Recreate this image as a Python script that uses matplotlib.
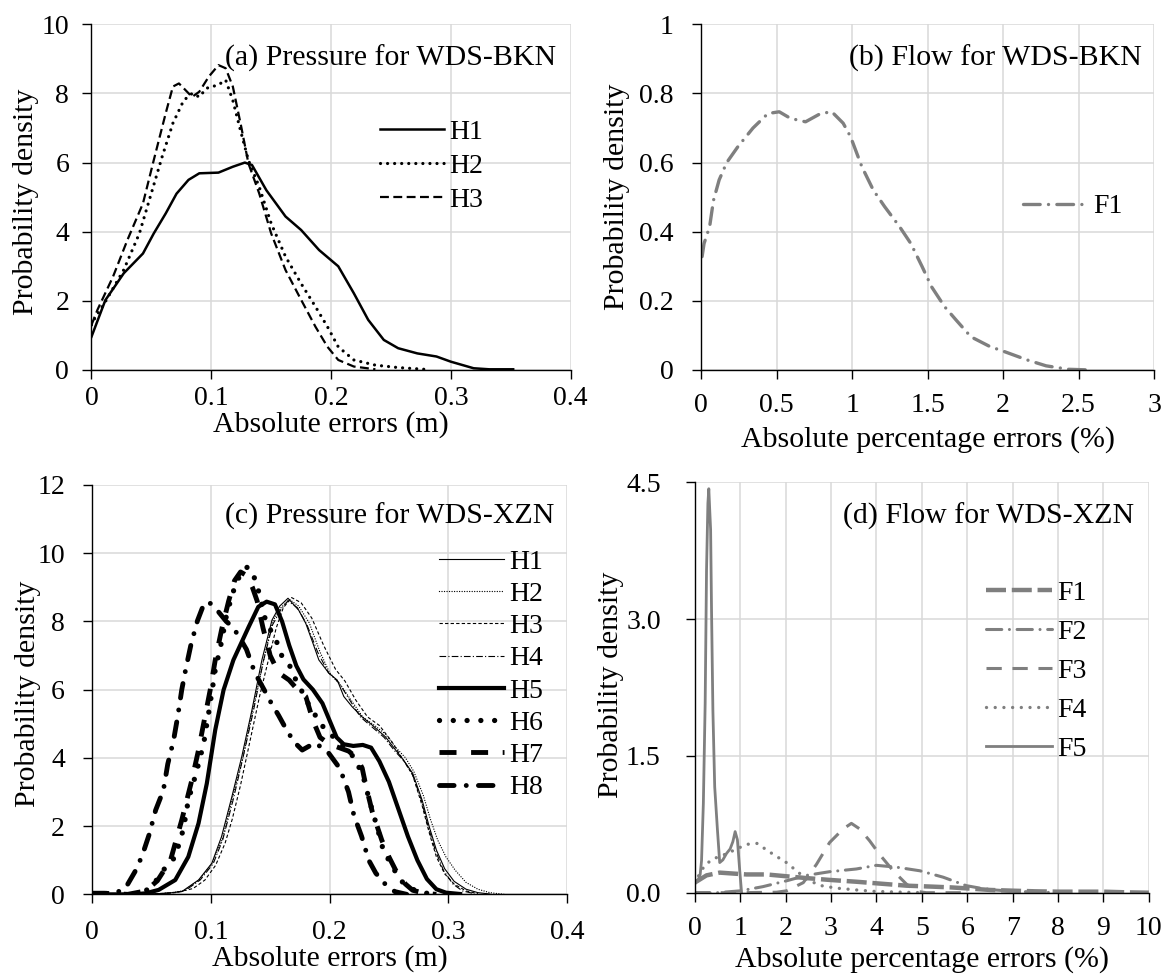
import matplotlib
matplotlib.use('Agg')
import matplotlib.pyplot as plt

plt.rcParams['font.family'] = ['Liberation Serif', 'DejaVu Serif']
FS = 20      # tick labels and legends
FSL = 21.5   # axis labels and panel titles

# ---------------- data ----------------
# (a) Pressure for WDS-BKN
a_H1_x = [0, 0.0116, 0.027, 0.043, 0.052, 0.062, 0.071, 0.081, 0.09, 0.106, 0.118, 0.128, 0.134, 0.146,
          0.162, 0.175, 0.19, 0.206, 0.219, 0.231, 0.244, 0.256, 0.272, 0.288, 0.30, 0.319, 0.332, 0.352]
a_H1_y = [0.96, 2.02, 2.8, 3.37, 3.95, 4.53, 5.1, 5.5, 5.69, 5.71, 5.88, 6.0, 5.93, 5.2,
          4.44, 4.05, 3.47, 3.0, 2.22, 1.45, 0.87, 0.63, 0.48, 0.39, 0.24, 0.05, 0.02, 0.02]
a_H2_x = [0, 0.002, 0.012, 0.027, 0.04, 0.049, 0.059, 0.068, 0.077, 0.084, 0.09, 0.096, 0.106, 0.112,
          0.118, 0.125, 0.131, 0.14, 0.15, 0.162, 0.175, 0.187, 0.197, 0.206, 0.219, 0.237, 0.256, 0.278]
a_H2_y = [1.3, 1.45, 2.0, 2.9, 3.95, 5.0, 6.17, 7.14, 7.8, 8.0, 7.9, 8.15, 8.25, 8.39,
          7.8, 6.85, 6.07, 5.3, 4.24, 3.28, 2.5, 1.83, 1.25, 0.67, 0.29, 0.14, 0.07, 0.02]
a_H3_x = [0, 0.005, 0.018, 0.03, 0.043, 0.052, 0.062, 0.068, 0.073, 0.077, 0.084, 0.09, 0.098, 0.106,
          0.112, 0.118, 0.125, 0.131, 0.14, 0.15, 0.162, 0.175, 0.187, 0.197, 0.206, 0.219, 0.237]
a_H3_y = [1.3, 1.74, 2.7, 3.76, 4.82, 6.07, 7.43, 8.2, 8.29, 8.15, 7.9, 8.05, 8.49, 8.82,
          8.73, 8.2, 7.04, 5.98, 5.11, 3.95, 2.89, 2.03, 1.25, 0.67, 0.29, 0.1, 0.02]

# (b) Flow for WDS-BKN
b_F1_x = [0.007, 0.02, 0.057, 0.082, 0.12, 0.17, 0.244, 0.344, 0.443, 0.518, 0.592, 0.692, 0.792, 0.866,
          0.941, 0.99, 1.065, 1.14, 1.215, 1.314, 1.389, 1.464, 1.526, 1.613, 1.688, 1.787, 1.912, 2.01,
          2.16, 2.285, 2.435, 2.584]
b_F1_y = [0.328, 0.366, 0.415, 0.49, 0.55, 0.60, 0.646, 0.70, 0.742, 0.747, 0.728, 0.718, 0.742, 0.747,
          0.714, 0.675, 0.588, 0.521, 0.473, 0.415, 0.366, 0.299, 0.241, 0.183, 0.145, 0.096, 0.068, 0.053,
          0.029, 0.012, 0.002, 0.0]

# (c) Pressure for WDS-XZN
c_H1_x = [0.03, 0.05, 0.065, 0.0755, 0.0896, 0.1008, 0.109, 0.1177, 0.126, 0.1346, 0.143, 0.1515, 0.158,
          0.165, 0.174, 0.18, 0.185, 0.191, 0.1995, 0.2065, 0.212, 0.219, 0.2275, 0.236, 0.247, 0.2557,
          0.262, 0.27, 0.278, 0.284, 0.29, 0.297, 0.305, 0.315, 0.325, 0.335]
c_H1_y = [0, 0.01, 0.04, 0.08, 0.42, 0.91, 1.69, 2.86, 4.03, 5.4, 6.87, 8.04, 8.45,
          8.68, 8.33, 7.94, 7.46, 6.87, 6.48, 6.28, 5.8, 5.5, 5.2, 4.96, 4.62, 4.23,
          3.95, 3.55, 2.76, 1.98, 1.3, 0.75, 0.38, 0.15, 0.05, 0.01]
c_H2_x = [0.03, 0.05, 0.065, 0.077, 0.09, 0.101, 0.11, 0.118, 0.127, 0.135, 0.144, 0.152, 0.159,
          0.166, 0.174, 0.183, 0.192, 0.2, 0.21, 0.218, 0.228, 0.238, 0.247, 0.256, 0.264, 0.271,
          0.279, 0.285, 0.291, 0.298, 0.306, 0.315, 0.325, 0.335, 0.347]
c_H2_y = [0, 0.01, 0.04, 0.1, 0.42, 0.9, 1.65, 2.8, 4.0, 5.35, 6.8, 8.0, 8.4,
          8.65, 8.45, 7.95, 7.1, 6.5, 6.1, 5.7, 5.2, 4.95, 4.7, 4.3, 4.0, 3.6,
          2.9, 2.2, 1.6, 1.1, 0.7, 0.35, 0.15, 0.05, 0.0]
c_H3_x = [0.035, 0.055, 0.07, 0.085, 0.095, 0.104, 0.112, 0.118, 0.125, 0.133, 0.141, 0.148, 0.155,
          0.161, 0.168, 0.176, 0.185, 0.195, 0.205, 0.213, 0.222, 0.232, 0.242, 0.252, 0.261, 0.27,
          0.278, 0.284, 0.29, 0.297, 0.305, 0.315, 0.325]
c_H3_y = [0, 0.01, 0.05, 0.17, 0.42, 0.85, 1.5, 2.2, 3.2, 4.5, 5.8, 6.8, 7.8,
          8.4, 8.7, 8.55, 8.1, 7.3, 6.6, 6.25, 5.7, 5.2, 4.95, 4.5, 4.0, 3.5,
          2.6, 1.8, 1.1, 0.6, 0.3, 0.1, 0.02]
c_H4_x = [0.03, 0.05, 0.065, 0.078, 0.091, 0.102, 0.11, 0.119, 0.127, 0.136, 0.144, 0.152, 0.159,
          0.165, 0.173, 0.181, 0.19, 0.199, 0.208, 0.216, 0.226, 0.236, 0.246, 0.255, 0.263, 0.27,
          0.277, 0.283, 0.289, 0.296, 0.304, 0.312, 0.322]
c_H4_y = [0, 0.01, 0.04, 0.1, 0.42, 0.9, 1.6, 2.8, 4.0, 5.4, 6.8, 7.9, 8.35,
          8.6, 8.4, 7.9, 7.1, 6.5, 6.2, 5.75, 5.2, 4.9, 4.6, 4.2, 3.9, 3.5,
          2.8, 2.0, 1.3, 0.7, 0.3, 0.1, 0.02]
c_H5_x = [0.0, 0.035, 0.045, 0.056, 0.07, 0.081, 0.0896, 0.0966, 0.1037, 0.1107, 0.119, 0.132, 0.14,
          0.147, 0.154, 0.16, 0.166, 0.172, 0.178, 0.186, 0.194, 0.2, 0.206, 0.212, 0.22, 0.228, 0.235,
          0.242, 0.25, 0.258, 0.266, 0.274, 0.282, 0.29, 0.298, 0.31]
c_H5_y = [0, 0, 0.03, 0.13, 0.42, 1.1, 2.08, 3.25, 4.82, 5.99, 6.87, 7.85, 8.43,
          8.58, 8.5, 8.0, 7.3, 6.7, 6.3, 6.0, 5.6, 5.1, 4.6, 4.4, 4.35, 4.38, 4.3,
          3.9, 3.3, 2.5, 1.7, 1.0, 0.45, 0.15, 0.05, 0.01]
c_H6_x = [0.035, 0.045, 0.052, 0.0586, 0.065, 0.07, 0.077, 0.081, 0.088, 0.094, 0.099, 0.1037, 0.109,
          0.1135, 0.1206, 0.126, 0.131, 0.136, 0.141, 0.146, 0.151, 0.156, 0.16, 0.167, 0.171, 0.176,
          0.181, 0.187, 0.192, 0.199, 0.21, 0.2205, 0.228, 0.234, 0.24, 0.246, 0.253, 0.257, 0.264,
          0.275, 0.29]
c_H6_y = [0, 0.1, 0.3, 0.66, 0.9, 1.1, 1.93, 2.76, 3.6, 4.43, 5.5, 6.58, 7.4,
          8.24, 9.07, 9.45, 9.6, 9.35, 8.8, 8.04, 7.7, 7.36, 6.97, 6.67, 6.33, 6.0,
          5.65, 5.31, 5.01, 4.75, 4.4, 4.02, 3.5, 2.7, 1.98, 1.2, 0.86, 0.52, 0.27,
          0.06, 0.0]
c_H7_x = [0.0, 0.01, 0.03, 0.045, 0.055, 0.066, 0.0755, 0.084, 0.0896, 0.095, 0.0995, 0.1037, 0.109,
          0.115, 0.12, 0.125, 0.13, 0.135, 0.139, 0.144, 0.15, 0.157, 0.166, 0.173, 0.18, 0.186,
          0.192, 0.2, 0.208, 0.216, 0.223, 0.2275, 0.2305, 0.236, 0.244, 0.25, 0.258, 0.264, 0.27,
          0.28, 0.29]
c_H7_y = [0.03, 0.03, 0.0, 0.1, 0.4, 1.0, 2.18, 3.35, 4.23, 5.2, 6.0, 6.87, 7.75,
          8.6, 9.2, 9.45, 9.35, 9.0, 8.6, 7.8, 7.0, 6.5, 6.28, 6.0, 5.8, 5.1,
          4.6, 4.4, 4.3, 4.2, 4.0, 3.7, 3.2, 2.42, 1.59, 1.1, 0.55, 0.3, 0.12,
          0.03, 0.0]
c_H8_x = [0.0, 0.012, 0.025, 0.03, 0.036, 0.042, 0.048, 0.0535, 0.06, 0.0637, 0.0685, 0.0721, 0.0755,
          0.079, 0.0833, 0.0887, 0.094, 0.098, 0.101, 0.106, 0.113, 0.118, 0.123, 0.13, 0.137, 0.145,
          0.151, 0.157, 0.163, 0.17, 0.177, 0.1876, 0.198, 0.2087, 0.216, 0.2205, 0.227, 0.233, 0.239,
          0.246, 0.255, 0.265]
c_H8_y = [0.03, 0.03, 0.1, 0.3, 0.66, 1.12, 1.75, 2.47, 3.05, 3.82, 4.5, 5.22, 6.0,
          6.63, 7.33, 8.02, 8.5, 8.58, 8.48, 8.3, 8.0, 7.85, 7.6, 7.18, 6.5, 5.99,
          5.6, 5.25, 4.87, 4.47, 4.23, 4.44, 4.2, 3.69, 3.0, 2.32, 1.7, 1.0, 0.62,
          0.33, 0.08, 0.0]

# (d) Flow for WDS-XZN
d_F1_x = [0, 0.26, 0.55, 0.84, 1.14, 1.58, 2.02, 2.46, 2.97, 3.56, 4.07, 4.66, 5.25, 5.64, 6.0,
          6.5, 7.0, 7.5, 8.0, 8.5, 9.0, 9.5, 10.0]
d_F1_y = [0.11, 0.19, 0.22, 0.21, 0.2, 0.2, 0.18, 0.16, 0.14, 0.12, 0.1, 0.077, 0.066, 0.058, 0.047,
          0.03, 0.022, 0.015, 0.011, 0.011, 0.011, 0.004, 0.0]
d_F2_x = [0, 0.5, 1.0, 1.5, 2.02, 2.46, 2.97, 3.56, 4.0, 4.44, 4.96, 5.47, 5.98, 6.28, 6.6, 7.0, 8.0]
d_F2_y = [0.0, 0.0, 0.02, 0.066, 0.13, 0.19, 0.23, 0.26, 0.3, 0.28, 0.24, 0.17, 0.077, 0.05, 0.03,
          0.015, 0.0]
d_F3_x = [0, 1.0, 1.8, 2.02, 2.39, 2.68, 2.97, 3.27, 3.45, 3.63, 3.85, 4.07, 4.37, 4.66, 4.88, 5.1, 6.0]
d_F3_y = [0.0, 0.0, 0.005, 0.02, 0.11, 0.31, 0.55, 0.7, 0.76, 0.7, 0.57, 0.42, 0.24, 0.095, 0.015,
          0.0, 0.0]
d_F4_x = [0, 0.1, 0.22, 0.4, 0.62, 0.84, 1.14, 1.37, 1.73, 2.02, 2.24, 2.46, 2.75, 3.12, 3.56, 3.93,
          4.44, 5.0]
d_F4_y = [0.1, 0.2, 0.3, 0.37, 0.41, 0.46, 0.53, 0.54, 0.42, 0.33, 0.24, 0.15, 0.08, 0.05, 0.03,
          0.015, 0.007, 0.0]
d_F5_x = [0, 0.07, 0.12, 0.15, 0.19, 0.23, 0.26, 0.29, 0.31, 0.33, 0.35, 0.37, 0.4, 0.44, 0.5, 0.55,
          0.62, 0.7, 0.78, 0.84, 0.89, 0.94, 0.99, 1.03]
d_F5_y = [0.11, 0.13, 0.2, 0.35, 0.98, 2.08, 3.54, 4.27, 4.43, 4.2, 3.98, 3.1, 2.0, 1.16, 0.69, 0.33,
          0.36, 0.43, 0.48, 0.56, 0.67, 0.58, 0.25, 0.01]

a_xticks = [0, 0.1, 0.2, 0.3, 0.4]
a_yticks = [0, 2, 4, 6, 8, 10]
b_xticks = [0, 0.5, 1, 1.5, 2, 2.5, 3]
b_yticks = [0, 0.2, 0.4, 0.6, 0.8, 1]
c_xticks = [0, 0.1, 0.2, 0.3, 0.4]
c_yticks = [0, 2, 4, 6, 8, 10, 12]
d_xticks = list(range(0, 11))
d_yticks = [0.0, 1.5, 3.0, 4.5]

GRAY = '#7f7f7f'

fig = plt.figure(figsize=(11.68, 9.77), dpi=100)
axA = fig.add_axes([0.0783, 0.6213, 0.4103, 0.3538])
axB = fig.add_axes([0.6002, 0.6213, 0.3879, 0.3538])
axC = fig.add_axes([0.0789, 0.0846, 0.4065, 0.4190])
axD = fig.add_axes([0.5948, 0.0863, 0.3888, 0.4200])


def style(ax, xticks, yticks, yfmt, xpad, ypad, xlabel, xlab_y, ylab_x, ylab_y):
    ax.set_xlim(xticks[0], xticks[-1])
    ax.set_ylim(yticks[0], yticks[-1])
    ax.set_xticks(xticks)
    ax.set_yticks(yticks)
    ax.set_xticklabels(['%g' % v for v in xticks])
    ax.set_yticklabels([yfmt % v for v in yticks])
    ax.grid(True, color='#d9d9d9', lw=1.1)
    ax.set_axisbelow(True)
    for s in ('top', 'right'):
        ax.spines[s].set_visible(False)
    for s in ('left', 'bottom'):
        ax.spines[s].set_color('black')
        ax.spines[s].set_linewidth(1.0)
    ax.tick_params(direction='out', length=6.5, width=1.0, labelsize=FS, colors='black')
    ax.tick_params(axis='x', pad=xpad)
    ax.tick_params(axis='y', pad=ypad)
    ax.set_xlabel(xlabel, fontsize=FSL)
    ax.xaxis.set_label_coords(0.5, xlab_y)
    ax.set_ylabel('Probability density', fontsize=FSL, va='center')
    ax.yaxis.set_label_coords(ylab_x, ylab_y)


# ---- (a)
axA.plot(a_H1_x, a_H1_y, color='black', lw=1.8, ls='-', label='H1', solid_joinstyle='round')
axA.plot(a_H2_x, a_H2_y, color='black', lw=2.3, ls=(0, (0.01, 2.2)), dash_capstyle='round', label='H2')
axA.plot(a_H3_x, a_H3_y, color='black', lw=1.6, ls=(0, (4, 2)), label='H3')
style(axA, a_xticks, a_yticks, '%g', 5.0, 9.5, 'Absolute errors (m)', -0.118, -0.136, 0.487)
axA.text(0.969, 0.9025, '(a) Pressure for WDS-BKN', transform=axA.transAxes, ha='right', va='center',
         fontsize=FSL)
axA.legend(loc='center left', bbox_to_anchor=(0.6015, 0.590), frameon=False, fontsize=FS,
           borderpad=0, borderaxespad=0, handlelength=2.3, handletextpad=0.2, labelspacing=0.31)

# ---- (b)
axB.plot(b_F1_x, b_F1_y, color=GRAY, lw=2.4, ls=(0, (5, 2.5, 0.01, 2.5)), dash_capstyle='round', label='F1')
style(axB, b_xticks, b_yticks, '%g', 10, 13, 'Absolute percentage errors (%)', -0.162, -0.186, 0.501)
axB.text(0.9735, 0.9025, '(b) Flow for WDS-BKN', transform=axB.transAxes, ha='right', va='center',
         fontsize=FSL)
axB.legend(loc='center left', bbox_to_anchor=(0.711, 0.4724), frameon=False, fontsize=FS,
           borderpad=0, borderaxespad=0, handlelength=2.37, handletextpad=0.15)

# ---- (c)
axC.plot(c_H1_x, c_H1_y, color='black', lw=0.8, ls='-', label='H1')
axC.plot(c_H2_x, c_H2_y, color='black', lw=1.0, ls=(0, (0.01, 1.8)), dash_capstyle='round', label='H2')
axC.plot(c_H3_x, c_H3_y, color='black', lw=0.8, ls=(0, (3, 2)), label='H3')
axC.plot(c_H4_x, c_H4_y, color='black', lw=0.8, ls=(0, (6, 2, 1, 2)), label='H4')
axC.plot(c_H5_x, c_H5_y, color='black', lw=3.0, ls='-', solid_joinstyle='round', label='H5')
axC.plot(c_H6_x, c_H6_y, color='black', lw=3.8, ls=(0, (0.01, 2.6)), dash_capstyle='round', label='H6')
axC.plot(c_H7_x, c_H7_y, color='black', lw=3.5, ls=(0, (3.5, 3)), label='H7')
axC.plot(c_H8_x, c_H8_y, color='black', lw=3.5, ls=(0, (3, 2.5, 0.01, 2.5)), dash_capstyle='round', label='H8')
style(axC, c_xticks, c_yticks, '%g', 12, 13, 'Absolute errors (m)', -0.124, -0.136, 0.489)
axC.text(0.974, 0.9225, '(c) Pressure for WDS-XZN', transform=axC.transAxes, ha='right', va='center',
         fontsize=FSL)
axC.legend(loc='center left', bbox_to_anchor=(0.7306, 0.5365), frameon=False, fontsize=FS,
           borderpad=0, borderaxespad=0, handlelength=2.33, handletextpad=0.2, labelspacing=0.245)

# ---- (d)
axD.plot(d_F1_x, d_F1_y, color=GRAY, lw=3.2, ls=(0, (4.5, 1.3)), label='F1')
axD.plot(d_F2_x, d_F2_y, color=GRAY, lw=2.2, ls=(0, (5, 2.5, 0.01, 2.5)), dash_capstyle='round', label='F2')
axD.plot(d_F3_x, d_F3_y, color=GRAY, lw=2.2, ls=(0, (5, 3.5)), label='F3')
axD.plot(d_F4_x, d_F4_y, color=GRAY, lw=2.4, ls=(0, (0.01, 2.6)), dash_capstyle='round', label='F4')
axD.plot(d_F5_x, d_F5_y, color=GRAY, lw=2.0, ls='-', solid_joinstyle='round', label='F5')
style(axD, d_xticks, d_yticks, '%.1f', 10, 18, 'Absolute percentage errors (%)', -0.131, -0.184, 0.506)
axD.text(0.9685, 0.916, '(d) Flow for WDS-XZN', transform=axD.transAxes, ha='right', va='center',
         fontsize=FSL)
axD.legend(loc='center left', bbox_to_anchor=(0.6415, 0.5397), frameon=False, fontsize=FS,
           borderpad=0, borderaxespad=0, handlelength=2.37, handletextpad=0.2, labelspacing=0.49)

fig.savefig('out.png', dpi=100)
